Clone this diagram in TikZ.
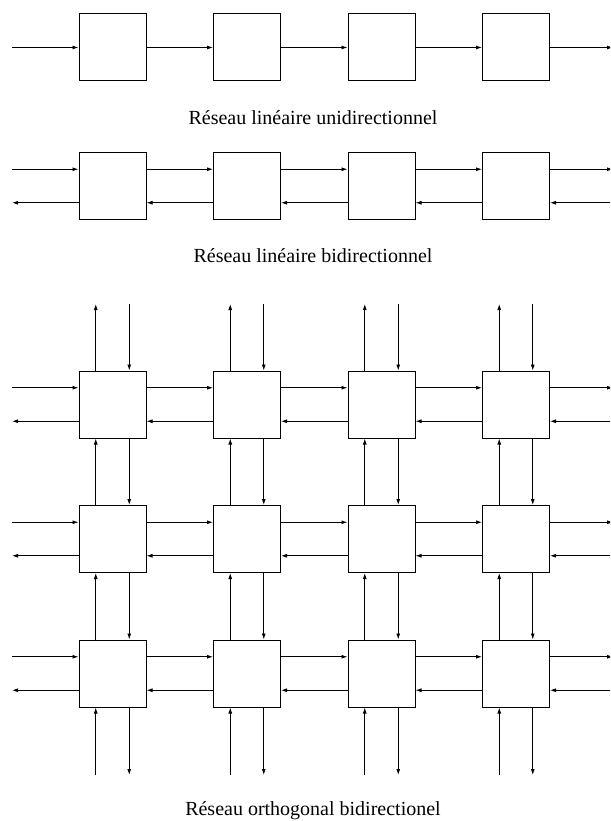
\documentclass[tikz,border=0pt]{standalone}
\usepackage{fontspec}
\setmainfont{Liberation Serif}
\usetikzlibrary{arrows.meta}
\begin{document}
\begin{tikzpicture}[x=1pt,y=-1pt,
  cell/.style={draw, line width=1pt, minimum size=67pt, inner sep=0pt},
  link/.style={line width=0.9pt, -{Latex[length=6pt,width=4pt]}},
  lbl/.style={font=\fontsize{20}{22}\selectfont, anchor=base, inner sep=0pt}]
\useasboundingbox (0,0) rectangle (610,821);
\clip (0,0) rectangle (610,821);
% ---------- unidirectional linear ----------
\foreach \i/\x in {1/112.5,2/247,3/381.5,4/516}
  \node[cell] (u\i) at (\x,47.5) {};
\coordinate (uL) at (12,47.5);
\coordinate (uR) at (613,47.5);
\draw[link] (uL) -- (u1.west);
\foreach \i/\j in {1/2,2/3,3/4}
  \draw[link] (u\i.east) -- (u\j.west);
\draw[link] (u4.east) -- (uR);
\node[lbl] (t1) at (313,125) {Réseau linéaire unidirectionnel};
% ---------- bidirectional linear ----------
\foreach \i/\x in {1/112.5,2/247,3/381.5,4/516}
  \node[cell] (d\i) at (\x,186) {};
\coordinate (dLa) at (12,169.25);
\coordinate (dLb) at (12,202.75);
\coordinate (dRa) at (613,169.25);
\coordinate (dRb) at (613,202.75);
\draw[link] (dLa) -- ([yshift=16.75pt]d1.west);
\draw[link] ([yshift=-16.75pt]d1.west) -- (dLb);
\foreach \i/\j in {1/2,2/3,3/4}{
  \draw[link] ([yshift=16.75pt]d\i.east) -- ([yshift=16.75pt]d\j.west);
  \draw[link] ([yshift=-16.75pt]d\j.west) -- ([yshift=-16.75pt]d\i.east);
}
\draw[link] ([yshift=16.75pt]d4.east) -- (dRa);
\draw[link] (dRb) -- ([yshift=-16.75pt]d4.east);
\node[lbl] (t2) at (313,262) {Réseau linéaire bidirectionnel};
% ---------- orthogonal grid ----------
\foreach \r/\y in {1/404.5,2/539,3/673.5}{
  \foreach \c/\x in {1/112.5,2/247,3/381.5,4/516}
    \node[cell] (g\r\c) at (\x,\y) {};
  \coordinate (gL\r a) at (12,\y-16.75);
  \coordinate (gL\r b) at (12,\y+16.75);
  \coordinate (gR\r a) at (613,\y-16.75);
  \coordinate (gR\r b) at (613,\y+16.75);
  \draw[link] (gL\r a) -- ([yshift=16.75pt]g\r1.west);
  \draw[link] ([yshift=-16.75pt]g\r1.west) -- (gL\r b);
  \foreach \i/\j in {1/2,2/3,3/4}{
    \draw[link] ([yshift=16.75pt]g\r\i.east) -- ([yshift=16.75pt]g\r\j.west);
    \draw[link] ([yshift=-16.75pt]g\r\j.west) -- ([yshift=-16.75pt]g\r\i.east);
  }
  \draw[link] ([yshift=16.75pt]g\r4.east) -- (gR\r a);
  \draw[link] (gR\r b) -- ([yshift=-16.75pt]g\r4.east);
}
\foreach \c/\x in {1/112.5,2/247,3/381.5,4/516}{
  \coordinate (gT\c a) at (\x-16.75,304);
  \coordinate (gT\c b) at (\x+16.75,304);
  \coordinate (gB\c a) at (\x-16.75,775);
  \coordinate (gB\c b) at (\x+16.75,775);
  \draw[link] ([xshift=-16.75pt]g1\c.north) -- (gT\c a);
  \draw[link] (gT\c b) -- ([xshift=16.75pt]g1\c.north);
  \foreach \r/\s in {1/2,2/3}{
    \draw[link] ([xshift=-16.75pt]g\s\c.north) -- ([xshift=-16.75pt]g\r\c.south);
    \draw[link] ([xshift=16.75pt]g\r\c.south) -- ([xshift=16.75pt]g\s\c.north);
  }
  \draw[link] (gB\c a) -- ([xshift=-16.75pt]g3\c.south);
  \draw[link] ([xshift=16.75pt]g3\c.south) -- (gB\c b);
}
\node[lbl] (t3) at (313,815) {Réseau orthogonal bidirectionel};
\end{tikzpicture}
\end{document}
